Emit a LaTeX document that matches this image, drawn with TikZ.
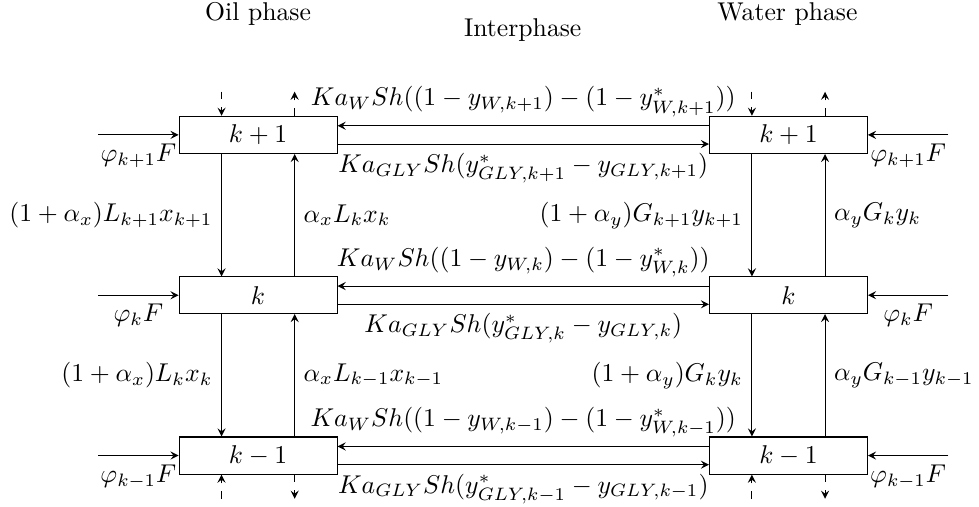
\documentclass[tikz,border=0pt]{standalone}
\usepackage{amsmath}
\usepackage{amssymb}
\usetikzlibrary{positioning}

\begin{document}
\begin{tikzpicture}[>=stealth,
  box/.style={draw, minimum width=2.16cm, minimum height=0.5cm},
  stub/.style={dashed, ->}]
\useasboundingbox (-3.53,-2.91) rectangle (9.86,4.02);
% headers
\node [anchor=base] (oilhead) at (0,3.74) {Oil phase};
\node [anchor=base] (interhead) at (3.62,3.52) {Interphase};
\node [anchor=base] (wathead) at (7.24,3.74) {Water phase};
% stages
\node [box] (oilA) at (0,2.175) {$k+1$};
\node [box, below=1.675cm of oilA] (oilB) {$k$};
\node [box, below=1.675cm of oilB] (oilC) {$k-1$};
\node [box, right=5.08cm of oilA] (watA) {$k+1$};
\node [box, right=5.08cm of oilB] (watB) {$k$};
\node [box, right=5.08cm of oilC] (watC) {$k-1$};
% feeds
\draw [->] ([xshift=-1.1cm]oilA.west) -- (oilA.west) node [midway,below] {$\varphi_{k+1}F$};
\draw [->] ([xshift=-1.1cm]oilB.west) -- (oilB.west) node [midway,below] {$\varphi_{k}F$};
\draw [->] ([xshift=-1.1cm]oilC.west) -- (oilC.west) node [midway,below] {$\varphi_{k-1}F$};
\draw [->] ([xshift=1.1cm]watA.east) -- (watA.east) node [midway,below] {$\varphi_{k+1}F$};
\draw [->] ([xshift=1.1cm]watB.east) -- (watB.east) node [midway,below] {$\varphi_{k}F$};
\draw [->] ([xshift=1.1cm]watC.east) -- (watC.east) node [midway,below] {$\varphi_{k-1}F$};
% mass transfer
\draw [->] ([yshift=0.125cm]watA.west) -- ([yshift=0.125cm]oilA.east)
  node [midway,above] {$Ka_W Sh((1-y_{W,k+1})-(1-y^*_{W,k+1}))$};
\draw [->] ([yshift=-0.125cm]oilA.east) -- ([yshift=-0.125cm]watA.west)
  node [midway,below] {$Ka_{GLY} Sh(y^*_{GLY,k+1}-y_{GLY,k+1})$};
\draw [->] ([yshift=0.125cm]watB.west) -- ([yshift=0.125cm]oilB.east)
  node [midway,above] {$Ka_W Sh((1-y_{W,k})-(1-y^*_{W,k}))$};
\draw [->] ([yshift=-0.125cm]oilB.east) -- ([yshift=-0.125cm]watB.west)
  node [midway,below] {$Ka_{GLY} Sh(y^*_{GLY,k}-y_{GLY,k})$};
\draw [->] ([yshift=0.125cm]watC.west) -- ([yshift=0.125cm]oilC.east)
  node [midway,above] {$Ka_W Sh((1-y_{W,k-1})-(1-y^*_{W,k-1}))$};
\draw [->] ([yshift=-0.125cm]oilC.east) -- ([yshift=-0.125cm]watC.west)
  node [midway,below] {$Ka_{GLY} Sh(y^*_{GLY,k-1}-y_{GLY,k-1})$};
% oil phase flows
\draw [->] ([xshift=-0.5cm]oilA.south) -- ([xshift=-0.5cm]oilB.north)
  node [midway,left] {$(1+\alpha_x)L_{k+1}x_{k+1}$};
\draw [->] ([xshift=0.5cm]oilB.north) -- ([xshift=0.5cm]oilA.south)
  node [midway,right] {$\alpha_x L_k x_k$};
\draw [->] ([xshift=-0.5cm]oilB.south) -- ([xshift=-0.5cm]oilC.north)
  node [midway,left] {$(1+\alpha_x)L_k x_k$};
\draw [->] ([xshift=0.5cm]oilC.north) -- ([xshift=0.5cm]oilB.south)
  node [midway,right] {$\alpha_x L_{k-1}x_{k-1}$};
% water phase flows
\draw [->] ([xshift=-0.5cm]watA.south) -- ([xshift=-0.5cm]watB.north)
  node [midway,left] {$(1+\alpha_y)G_{k+1}y_{k+1}$};
\draw [->] ([xshift=0.5cm]watB.north) -- ([xshift=0.5cm]watA.south)
  node [midway,right] {$\alpha_y G_k y_k$};
\draw [->] ([xshift=-0.5cm]watB.south) -- ([xshift=-0.5cm]watC.north)
  node [midway,left] {$(1+\alpha_y)G_k y_k$};
\draw [->] ([xshift=0.5cm]watC.north) -- ([xshift=0.5cm]watB.south)
  node [midway,right] {$\alpha_y G_{k-1}y_{k-1}$};
% stages beyond
\draw [stub] ([xshift=-0.5cm,yshift=0.33cm]oilA.north) -- ([xshift=-0.5cm]oilA.north);
\draw [stub] ([xshift=0.5cm]oilA.north) -- ([xshift=0.5cm,yshift=0.33cm]oilA.north);
\draw [stub] ([xshift=-0.5cm,yshift=0.33cm]watA.north) -- ([xshift=-0.5cm]watA.north);
\draw [stub] ([xshift=0.5cm]watA.north) -- ([xshift=0.5cm,yshift=0.33cm]watA.north);
\draw [stub] ([xshift=-0.5cm,yshift=-0.33cm]oilC.south) -- ([xshift=-0.5cm]oilC.south);
\draw [stub] ([xshift=0.5cm]oilC.south) -- ([xshift=0.5cm,yshift=-0.33cm]oilC.south);
\draw [stub] ([xshift=-0.5cm,yshift=-0.33cm]watC.south) -- ([xshift=-0.5cm]watC.south);
\draw [stub] ([xshift=0.5cm]watC.south) -- ([xshift=0.5cm,yshift=-0.33cm]watC.south);
\end{tikzpicture}
\end{document}
